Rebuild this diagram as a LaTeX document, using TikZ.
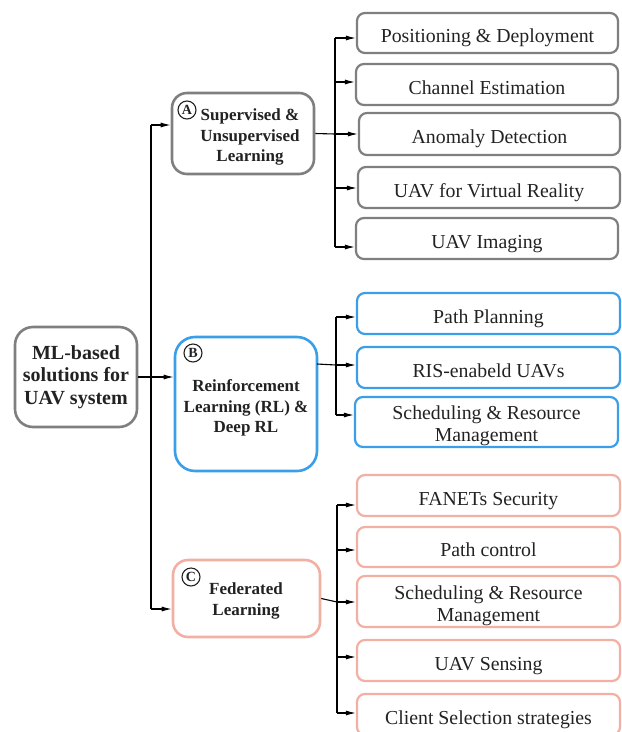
\documentclass[tikz,border=0pt]{standalone}
\usepackage{fontspec}
\setmainfont{Liberation Serif}
\usetikzlibrary{arrows.meta}
\definecolor{boxgray}{HTML}{7F7F7F}
\definecolor{boxblue}{HTML}{3A9EE8}
\definecolor{boxpink}{HTML}{F2AFA3}
\definecolor{txt}{HTML}{222222}
\begin{document}
\begin{tikzpicture}[x=1pt,y=-1pt,
  leafbase/.style={rounded corners=8pt, line width=2.2pt, minimum width=262pt,
    minimum height=41pt, inner sep=0pt, align=center,
    font=\fontsize{19.8}{22}\selectfont, text=txt},
  leaf/.style={leafbase, text height=24pt, text depth=5pt},
  leaftwo/.style={leafbase},
  mainbox/.style={line width=2.6pt, inner sep=0pt},
  mainlabel/.style={align=center, font=\bfseries\fontsize{17}{20.5}\selectfont, text=txt},
  letter/.style={circle, draw=txt, line width=1.1pt, inner sep=0pt, minimum size=18pt,
    font=\bfseries\fontsize{14}{14}\selectfont, text=txt},
  arr/.style={-{Latex[length=10pt,width=5pt]}, line width=1.1pt},
  ln/.style={line width=1.1pt}]
\useasboundingbox (0,0) rectangle (622,732);

% root
\node[mainbox, draw=boxgray, rounded corners=18pt, minimum width=122pt, minimum height=100pt,
  align=center, font=\bfseries\fontsize{20}{22.5}\selectfont, text=txt]
  (root) at (76,377) {ML-based\\solutions for\\UAV system};

% main boxes
\node[mainbox, draw=boxgray, rounded corners=15pt, minimum width=142pt, minimum height=81pt] (A) at (243,133.5) {};
\node[mainlabel] (Atext) at (250,137) {Supervised \&\\Unsupervised\\Learning};
\node[letter] (Aletter) at (187,110) {A};

\node[mainbox, draw=boxblue, rounded corners=20pt, minimum width=142pt, minimum height=134pt] (B) at (246,404) {};
\node[mainlabel] (Btext) at (246,408) {Reinforcement\\Learning (RL) \&\\Deep RL};
\node[letter] (Bletter) at (193,353) {B};

\node[mainbox, draw=boxpink, rounded corners=15pt, minimum width=147pt, minimum height=77pt] (C) at (246.5,598.5) {};
\node[mainlabel] (Ctext) at (246,601) {Federated\\Learning};
\node[letter] (Cletter) at (191,577) {C};

% group A leaves
\node[leaf, draw=boxgray, minimum width=261pt, minimum height=40pt] (a1) at (487.5,33) {Positioning \& Deployment};
\node[leaf, draw=boxgray] (a2) at (487,84.5) {Channel Estimation};
\node[leaf, draw=boxgray, minimum width=261pt, minimum height=42pt] (a3) at (489.5,134) {Anomaly Detection};
\node[leaf, draw=boxgray] (a4) at (489,187.5) {UAV for Virtual Reality};
\node[leaf, draw=boxgray] (a5) at (487,238.5) {UAV Imaging};

% group B leaves
\node[leaf, draw=boxblue, minimum width=263pt] (b1) at (488.5,313.5) {Path Planning};
\node[leaf, draw=boxblue, minimum width=263pt] (b2) at (488.5,367.5) {RIS-enabeld UAVs};
\node[leaftwo, draw=boxblue, minimum width=263pt, minimum height=50pt] (b3) at (486.5,422) {\rule{0pt}{22pt}Scheduling \& Resource\\Management};

% group C leaves
\node[leaf, draw=boxpink, minimum width=263pt] (c1) at (488.5,495.5) {FANETs Security};
\node[leaf, draw=boxpink, minimum width=263pt, minimum height=40pt] (c2) at (488.5,547) {Path control};
\node[leaftwo, draw=boxpink, minimum width=263pt, minimum height=51pt] (c3) at (488.5,601.5) {\rule{0pt}{22pt}Scheduling \& Resource\\Management};
\node[leaf, draw=boxpink, minimum width=263pt] (c4) at (488.5,660.5) {UAV Sensing};
\node[leaf, draw=boxpink, minimum width=263pt] (c5) at (488.5,714.5) {Client Selection strategies};

% main trunk
\coordinate (tA) at (151,125);
\coordinate (tC) at (151,609);
\draw[ln] (tA) -- (tC);
\draw[arr] (tA) -- (tA -| A.west);
\draw[arr] (tC) -- (tC -| C.west);
\draw[arr] (root.east) -- (root.east -| B.west);

% group A trunk
\coordinate (ta1) at (335,38);
\coordinate (ta2) at (335,82);
\coordinate (ta3) at (335,134);
\coordinate (ta4) at (335,188);
\coordinate (ta5) at (335,247);
\draw[ln] (ta1) -- (ta5);
\foreach \i in {1,2,3,4,5} \draw[arr] (ta\i) -- (ta\i -| a\i.west);
\draw[ln] (A.east) -- (ta3);

% group B trunk
\coordinate (tb1) at (336,317);
\coordinate (tb2) at (336,365);
\coordinate (tb3) at (336,415);
\coordinate (bs) at (317,364);
\draw[ln] (tb1) -- (tb3);
\foreach \i in {1,2,3} \draw[arr] (tb\i) -- (tb\i -| b\i.west);
\draw[ln] (bs) -- (tb2);

% group C trunk
\coordinate (tc1) at (337,505);
\coordinate (tc2) at (337,550);
\coordinate (tc3) at (337,602);
\coordinate (tc4) at (337,657);
\coordinate (tc5) at (337,713);
\draw[ln] (tc1) -- (tc5);
\foreach \i in {1,2,3,4,5} \draw[arr] (tc\i) -- (tc\i -| c\i.west);
\draw[ln] (C.east) -- (tc3);
\end{tikzpicture}
\end{document}
